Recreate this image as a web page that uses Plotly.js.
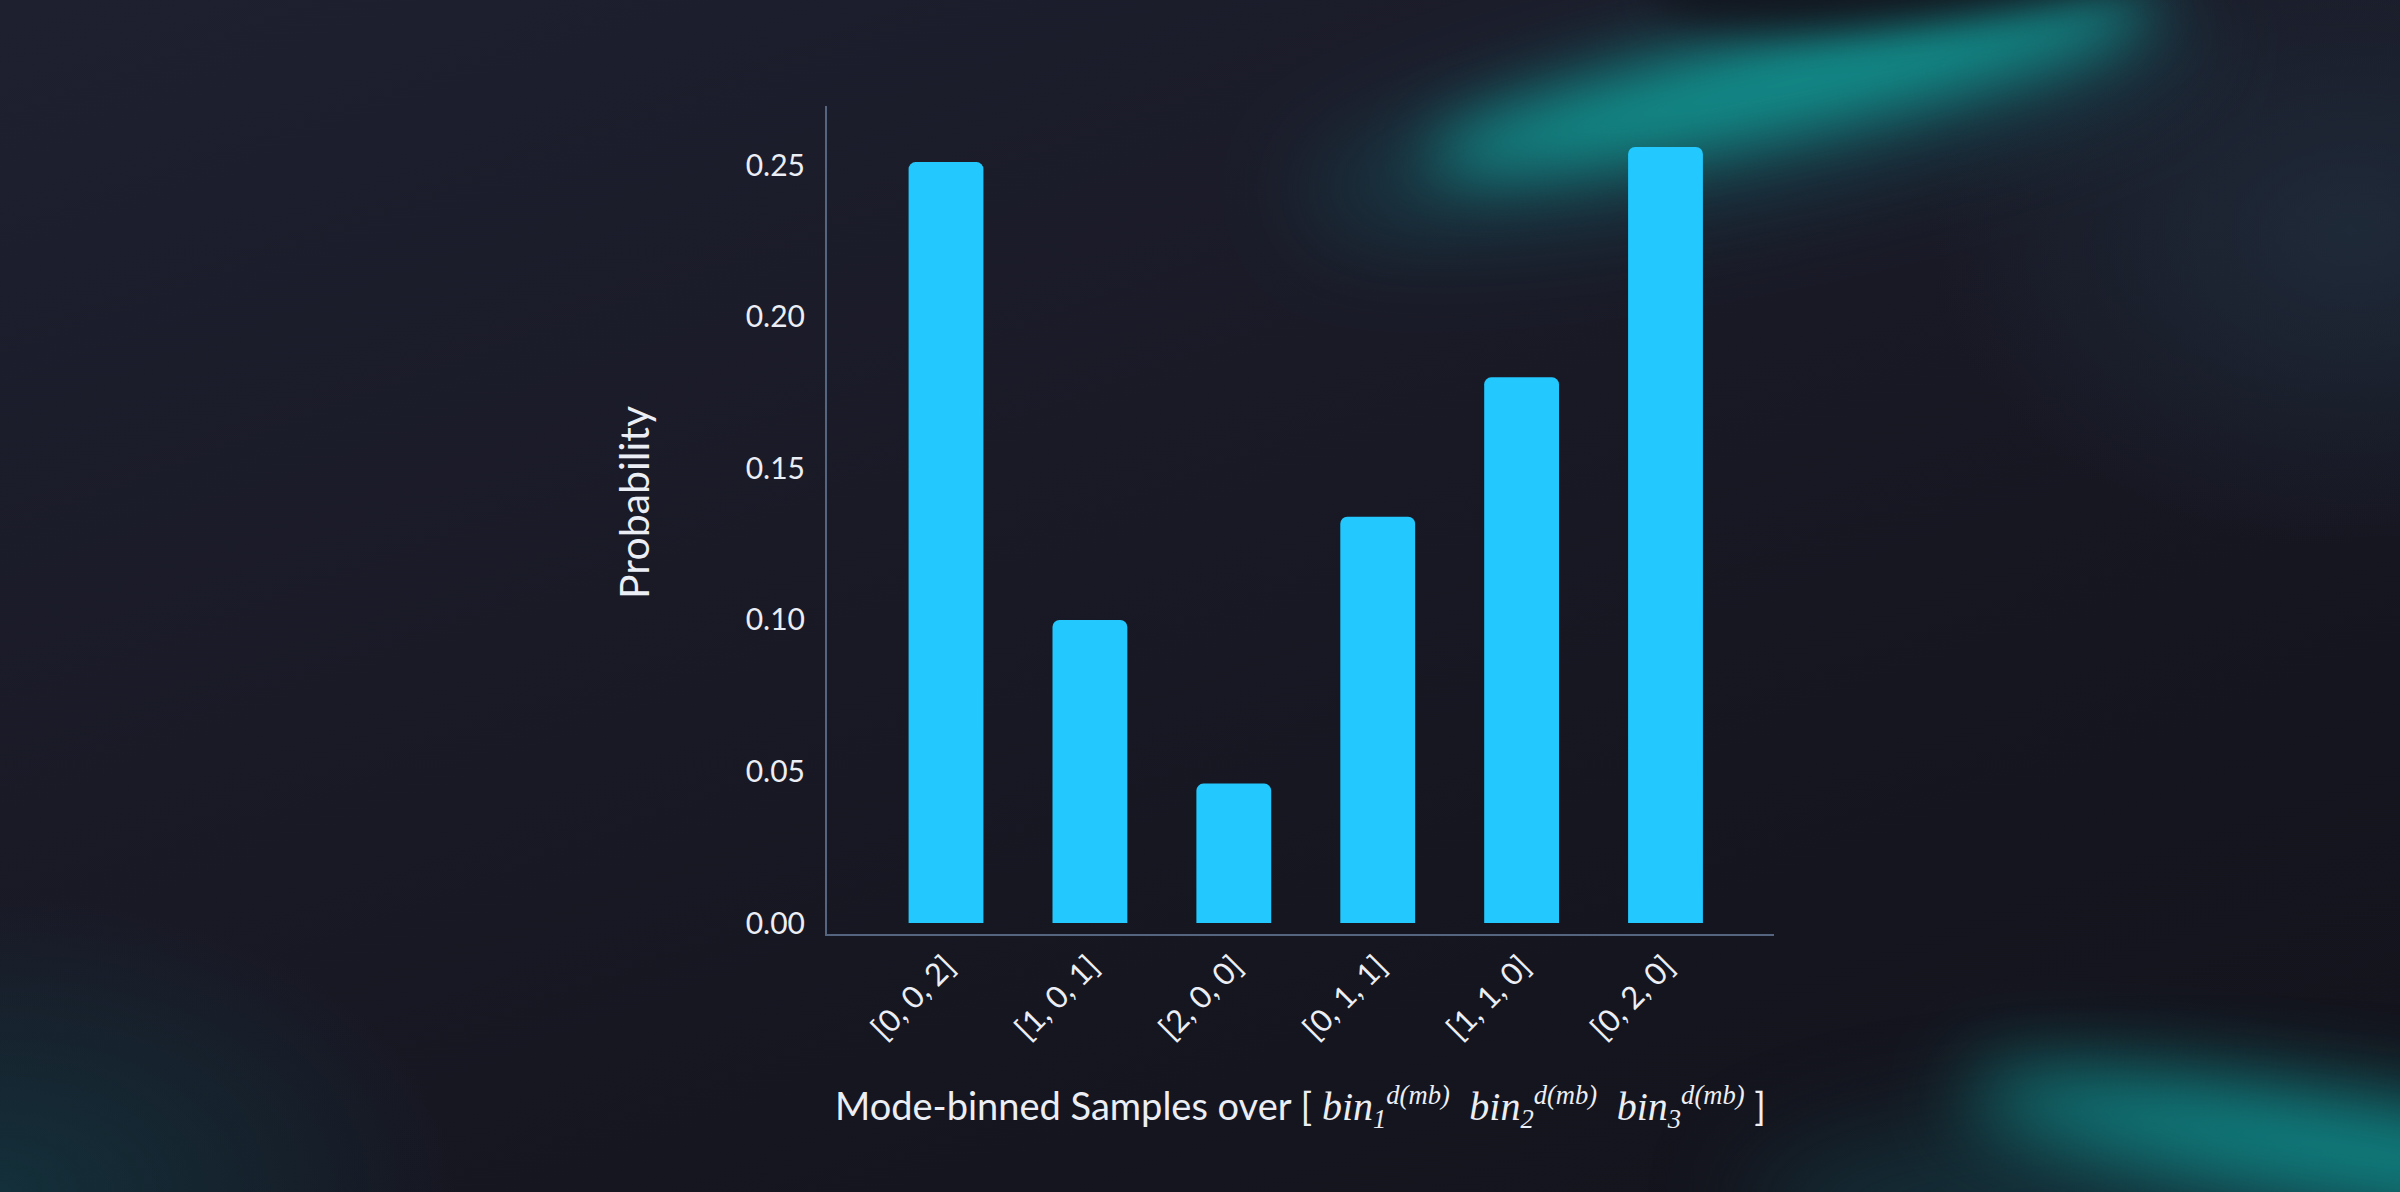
<!DOCTYPE html>
<html>
<head>
<meta charset="utf-8">
<script src="https://cdn.plot.ly/plotly-3.0.1.min.js"></script>
<style>
  html, body { margin: 0; padding: 0; width: 2400px; height: 1192px; overflow: hidden; }
  body {
    position: relative;
    background:
      radial-gradient(ellipse 600px 450px at 2350px 230px, rgba(32,46,62,0.8), transparent 70%),
      radial-gradient(ellipse 650px 420px at 0px 1192px, rgba(18,56,66,0.75), transparent 70%),
      linear-gradient(160deg, #1e2030 0%, #1a1a27 40%, #15151f 75%, #13141c 100%);
  }
  .glow { position: absolute; border-radius: 50%; pointer-events: none; }
  #g1b { left: 1300px; top: 40px; width: 900px; height: 150px; transform: rotate(-11deg);
         background: rgba(20,90,100,0.55); filter: blur(50px); }
  #g1 { left: 1420px; top: 35px; width: 740px; height: 95px; transform: rotate(-12deg);
        background: rgba(16,158,152,0.85); filter: blur(32px); }
  #g0 { left: 1650px; top: -85px; width: 520px; height: 105px; transform: rotate(-6deg);
        background: rgba(17,21,30,0.95); filter: blur(20px); }
  #g2 { left: 1960px; top: 1100px; width: 780px; height: 100px; transform: rotate(9deg);
        background: rgba(14,150,148,0.85); filter: blur(40px); }
  #g3 { left: 1750px; top: 1110px; width: 900px; height: 200px;
        background: rgba(20,62,72,0.6); filter: blur(50px); }
  #chart { position: absolute; left: 0; top: 0; }
</style>
</head>
<body>
<div class="glow" id="g3"></div>
<div class="glow" id="g1b"></div>
<div class="glow" id="g1"></div>
<div class="glow" id="g0"></div>
<div class="glow" id="g2"></div>
<div id="chart"></div>
<script>
const categories = ["[0, 0, 2]", "[1, 0, 1]", "[2, 0, 0]", "[0, 1, 1]", "[1, 1, 0]", "[0, 2, 0]"];
const probability = [0.251, 0.100, 0.046, 0.134, 0.180, 0.256];
const yTicks = [0, 0.05, 0.10, 0.15, 0.20, 0.25];
const yTickText = ["0.00", "0.05", "0.10", "0.15", "0.20", "0.25"];

const textColor = "#eceef5";
const axisColor = "#56657f";
const fontFamily = "Lato, 'Open Sans', sans-serif";

// math-like "bin_i^{d(mb)}" in a serif italic
const serif = "font-family:'Liberation Serif';font-style:italic";
const bin = i => `<span style="${serif};font-size:40px">bin</span>` +
  `<sub><span style="${serif}">${i}</span></sub>` +
  `<sup><span style="${serif}">d(mb)</span></sup>`;
const xTitle = `Mode-binned Samples over [ ${bin(1)}  ${bin(2)}  ${bin(3)} ]`;

Plotly.newPlot('chart', [{
  x: categories,
  y: probability,
  type: 'bar',
  width: 0.52,
  marker: { color: '#22c8fe', cornerradius: 7, line: { width: 0 } },
  hoverinfo: 'x+y'
}], {
  width: 2400,
  height: 1192,
  paper_bgcolor: 'rgba(0,0,0,0)',
  plot_bgcolor: 'rgba(0,0,0,0)',
  margin: { l: 827, r: 626, t: 106, b: 258 },
  font: { family: fontFamily, color: textColor, size: 30 },
  showlegend: false,
  xaxis: {
    type: 'category',
    range: [-0.827, 5.754],
    showline: true,
    linecolor: axisColor,
    linewidth: 2,
    showgrid: false,
    zeroline: false,
    ticks: '',
    tickangle: -45,
    tickfont: { size: 31, color: textColor },
    automargin: false,
    title: { text: xTitle, font: { size: 38, color: textColor }, standoff: 48 }
  },
  yaxis: {
    range: [-0.0036, 0.2695],
    tickvals: yTicks,
    ticktext: yTickText,
    showline: true,
    linecolor: axisColor,
    linewidth: 2,
    showgrid: false,
    zeroline: false,
    ticks: '',
    ticklabelstandoff: 14,
    tickfont: { size: 30, color: textColor },
    automargin: false
  },
  annotations: [{
    text: 'Probability',
    xref: 'paper', yref: 'paper',
    x: -0.205, y: 0.5217,
    xanchor: 'center', yanchor: 'middle',
    textangle: -90,
    showarrow: false,
    font: { size: 41, color: textColor }
  }]
}, { displayModeBar: false, staticPlot: true });
</script>
</body>
</html>
